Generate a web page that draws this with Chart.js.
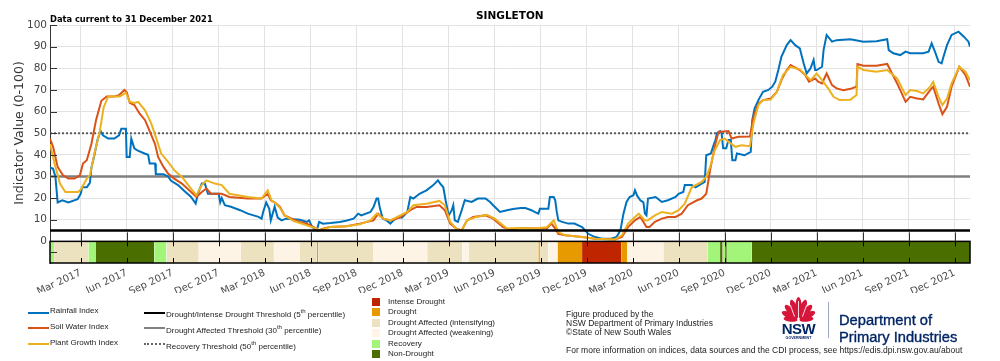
<!DOCTYPE html>
<html>
<head>
<meta charset="utf-8">
<script src="https://cdn.jsdelivr.net/npm/chart.js@4.4.1/dist/chart.umd.min.js"></script>
<style>
  body { margin: 0; background: #fff; }
  #wrap { position: relative; width: 1000px; height: 361px; overflow: hidden; font-family: "Liberation Sans", Arial, sans-serif; color: #222; }
  #c { position: absolute; left: 0; top: 0; }
  .abs { position: absolute; white-space: nowrap; }
  .ttl { font-family: "DejaVu Sans", sans-serif; font-weight: bold; color: #000; }
  .leg { font-size: 8px; line-height: 10px; }
  .sw { position: absolute; height: 0; }
  .box { position: absolute; width: 8px; height: 8px; }
  .foot { font-size: 8.5px; line-height: 9px; color: #222; }
</style>
</head>
<body>
<div id="wrap">
  <canvas id="c" width="1000" height="361"></canvas>

  <div class="abs ttl" style="left:476px; top:9px; font-size:10.5px;">SINGLETON</div>
  <div class="abs ttl" style="left:50px; top:14px; font-size:8.3px;">Data current to 31 December 2021</div>
  <div class="abs" style="left:18px; top:133px; transform: translate(-50%,-50%) rotate(-90deg); font-family:'DejaVu Sans',sans-serif; font-size:12.5px; color:#333;">Indicator Value (0-100)</div>

  <!-- legend: series -->
  <div class="sw" style="left:28px; top:312px; width:21px; border-top:2px solid #0072BD;"></div>
  <div class="abs leg" style="left:50px; top:306px;">Rainfall Index</div>
  <div class="sw" style="left:28px; top:327px; width:21px; border-top:2px solid #D95319;"></div>
  <div class="abs leg" style="left:50px; top:322px;">Soil Water Index</div>
  <div class="sw" style="left:28px; top:343px; width:21px; border-top:2px solid #EDB120;"></div>
  <div class="abs leg" style="left:50px; top:338px;">Plant Growth Index</div>

  <!-- legend: thresholds -->
  <div class="sw" style="left:144px; top:312px; width:21px; border-top:2px solid #000;"></div>
  <div class="abs leg" style="left:166px; top:306px;">Drought/Intense Drought Threshold (5<sup style="font-size:6px">th</sup> percentile)</div>
  <div class="sw" style="left:144px; top:327px; width:21px; border-top:2px solid #808080;"></div>
  <div class="abs leg" style="left:166px; top:322px;">Drought Affected Threshold (30<sup style="font-size:6px">th</sup> percentile)</div>
  <div class="sw" style="left:144px; top:343px; width:21px; border-top:2px dotted #666;"></div>
  <div class="abs leg" style="left:166px; top:338px;">Recovery Threshold (50<sup style="font-size:6px">th</sup> percentile)</div>

  <!-- legend: categories -->
  <div id="catLegend"></div>

  <!-- footnote -->
  <div class="abs foot" style="left:566px; top:310px;">Figure produced by the<br>NSW Department of Primary Industries<br>&copy;State of New South Wales</div>
  <div class="abs foot" style="left:566px; top:346px;">For more information on indices, data sources and the CDI process, see https://edis.dpi.nsw.gov.au/about</div>

  <!-- logo -->
  <svg class="abs" style="left:776px; top:296px;" width="46" height="46" viewBox="0 0 46 46">
    <g fill="#D7153A">
      <ellipse cx="22.5" cy="11" rx="3.2" ry="10"/>
      <ellipse cx="22.5" cy="12" rx="3.2" ry="9.5" transform="rotate(-20 22.5 24)"/>
      <ellipse cx="22.5" cy="12" rx="3.2" ry="9.5" transform="rotate(20 22.5 24)"/>
      <ellipse cx="22.5" cy="13" rx="3.2" ry="9" transform="rotate(-42 22.5 24)"/>
      <ellipse cx="22.5" cy="13" rx="3.2" ry="9" transform="rotate(42 22.5 24)"/>
      <ellipse cx="22.5" cy="14" rx="3" ry="8.5" transform="rotate(-64 22.5 24)"/>
      <ellipse cx="22.5" cy="14" rx="3" ry="8.5" transform="rotate(64 22.5 24)"/>
      <ellipse cx="22.5" cy="16" rx="2.6" ry="7" transform="rotate(-84 22.5 24)"/>
      <ellipse cx="22.5" cy="16" rx="2.6" ry="7" transform="rotate(84 22.5 24)"/>
    </g>
    <g fill="#fff" opacity="0.85">
      <rect x="22" y="5" width="1" height="16"/>
      <rect x="16" y="9" width="1" height="12" transform="rotate(-20 16.5 15)"/>
      <rect x="28" y="9" width="1" height="12" transform="rotate(20 28.5 15)"/>
    </g>
    <text x="22.5" y="38" text-anchor="middle" font-family="Liberation Sans, Arial" font-weight="bold" font-size="15" fill="#002664" letter-spacing="-0.5">NSW</text>
    <text x="22.5" y="43" text-anchor="middle" font-family="Liberation Sans, Arial" font-weight="bold" font-size="3.6" fill="#002664">GOVERNMENT</text>
  </svg>
  <div class="abs" style="left:828px; top:302px; width:0; height:36px; border-left:1.5px solid #9aa6c4;"></div>
  <div class="abs" style="left:839px; top:312px; font-size:14.7px; line-height:17px; color:#002664; -webkit-text-stroke:0.35px #002664;">Department of<br>Primary Industries</div>
</div>

<script>
// valori, mesi da gennaio 2017 (0 = 1 gen 2017, 60 = 1 gen 2022)
const rainfall = [[0,34],[0.2,33.6],[0.35,30],[0.5,18],[0.8,19],[1.2,18],[1.8,19.5],[2.0,22],[2.1,25],[2.4,25],[2.6,27],[2.7,34],[2.9,40],[3.1,47],[3.3,51],[3.45,49],[3.8,47.5],[4.2,47.5],[4.5,49],[4.65,52],[4.95,52],[5.0,39],[5.2,39],[5.3,47.5],[5.5,43],[5.7,42],[6.2,40.5],[6.4,40],[6.5,36],[6.85,36],[6.9,31],[7.4,31],[7.7,30],[7.9,28],[8.35,26],[8.8,23],[9.2,20.5],[9.5,17.5],[9.65,22],[9.9,26.7],[10.1,26.7],[10.3,22],[11.0,22],[11.1,18],[11.2,20],[11.4,16.7],[11.8,16],[12.4,14.4],[12.9,12.8],[13.6,11.3],[13.8,10.5],[13.9,13.6],[14.1,18],[14.3,15],[14.4,9.7],[14.65,16],[14.85,11],[15.1,9.7],[15.4,10.5],[16.3,10],[16.75,9],[16.9,9.7],[17.1,6.6],[17.4,5.1],[17.55,9],[17.8,8.2],[18.3,8.5],[18.9,9],[19.3,9.5],[19.8,10.5],[20.1,12.8],[20.3,12],[20.9,13.6],[21.1,15.9],[21.3,19.8],[21.4,19.8],[21.5,15.9],[21.7,10.5],[21.95,9.7],[22.2,8.2],[22.4,9.7],[22.7,11.3],[22.95,11],[23.3,13.6],[23.5,20.5],[23.7,19.8],[24.1,22],[24.55,23.6],[25.0,26],[25.3,28.2],[25.45,26.7],[25.65,25],[25.8,19],[26.0,12],[26.2,14.4],[26.3,16.7],[26.4,9.7],[26.6,9],[26.85,14.4],[27.05,19],[27.5,18.2],[27.9,19.8],[28.4,19.8],[28.7,18.2],[28.9,16.7],[29.35,13.6],[29.8,14.4],[30.2,15],[30.7,15.4],[31.0,15.4],[31.4,14.4],[31.6,13.6],[31.85,12.8],[31.95,15.1],[32.5,15.1],[32.6,20.5],[32.85,20.5],[32.95,19],[33.05,13.6],[33.15,9.7],[33.4,9],[33.8,8.2],[34.2,8.2],[34.7,6.6],[34.9,5.1],[35.1,3.5],[35.55,2],[36.0,1.2],[36.6,1.2],[36.95,2],[37.2,5.1],[37.4,12.8],[37.6,18.2],[37.8,20.5],[38.05,21.3],[38.15,23.6],[38.3,21],[38.5,19],[38.7,18],[38.8,12.8],[38.9,12],[39.0,19.8],[39.5,20.5],[39.9,18.2],[40.3,19],[40.8,20.5],[41.0,22],[41.3,22.8],[41.4,26],[41.85,26],[42.1,25],[42.5,26.7],[42.7,27.5],[42.8,39.8],[43.1,40.6],[43.3,45],[43.4,46.8],[43.5,50],[43.7,51],[43.8,50],[43.9,43],[44.1,43],[44.25,46.8],[44.4,46.8],[44.5,37.5],[44.7,37.5],[44.8,40.6],[45.3,39.8],[45.7,41.4],[45.8,56],[45.95,61.4],[46.2,65.3],[46.5,69.1],[46.85,70],[47.1,71.5],[47.3,73.8],[47.5,79.2],[47.7,85.3],[48.05,90.7],[48.3,93],[48.6,90.7],[48.9,89.2],[49.15,82.3],[49.35,77.6],[49.6,80],[49.8,83.8],[49.9,79.2],[50.0,79.2],[50.35,80.7],[50.45,88.4],[50.65,95.4],[51.0,92.3],[51.3,93],[52.2,93.4],[53.05,92.3],[53.9,92.5],[54.6,93.4],[54.7,88.4],[55.0,86.9],[55.45,86.1],[55.8,87.7],[56.1,87],[56.95,87],[57.3,87.7],[57.5,91.5],[57.75,87],[57.95,83],[58.15,82.3],[58.3,86],[58.5,90.7],[58.8,95.4],[59.25,96.9],[59.6,94.6],[59.9,92.3],[60,90]];

const soilWater = [[0,47.5],[0.2,43.7],[0.5,34.4],[0.85,30.5],[1.2,29],[1.6,29],[1.95,30.5],[2.15,36],[2.4,37.5],[2.7,45],[3.0,56],[3.35,65],[3.7,67],[4.2,67],[4.5,67.6],[4.85,70],[5.0,69],[5.2,64],[5.5,63],[5.85,59],[6.2,56],[6.5,51],[6.85,45],[7.05,39],[7.4,34.4],[7.7,31.3],[8.1,29],[8.6,26.7],[9.2,22.8],[9.55,20.5],[9.9,22.8],[10.2,24.4],[10.5,22],[11.2,22],[11.7,20.5],[12.9,19.8],[13.8,19.8],[14.2,22],[14.4,19],[14.65,18],[15.0,15.9],[15.3,12],[15.9,10],[16.3,9],[16.75,8.2],[17.2,6.6],[17.5,5.1],[17.8,5.9],[18.25,6.6],[19.35,7],[20.2,8.2],[21.1,9.7],[21.4,12.8],[21.75,10.5],[22.2,9.7],[22.8,11],[23.5,14.4],[23.9,15.9],[24.55,15.9],[25.4,16.7],[25.75,14.4],[26.1,8.2],[26.5,5.9],[26.85,5.1],[27.2,9.7],[27.6,11.3],[28.4,12],[28.9,10.5],[29.55,6.6],[30.0,5.4],[30.65,6.2],[31.6,5.9],[32.4,5.9],[32.7,8.2],[32.95,5.9],[33.15,3.5],[33.6,2.8],[34.7,2],[35.55,1.2],[36.85,0.9],[37.3,2],[37.7,6.6],[38.15,9.7],[38.5,11.3],[38.9,6.6],[39.1,6.6],[39.45,9],[39.9,10.5],[40.3,11.3],[40.8,11.3],[41.2,12.8],[41.6,16.7],[42.2,19],[42.5,19.8],[42.8,22],[43.05,32.9],[43.35,43.7],[43.6,50.6],[44.25,51],[44.45,47.5],[44.9,48.3],[45.65,48.5],[45.88,57.6],[46.2,63.7],[46.5,65.3],[47.0,66],[47.4,69.1],[47.75,75.3],[48.05,79.2],[48.3,81.5],[48.5,80.7],[48.9,79.2],[49.25,76.9],[49.5,73.8],[49.7,74.5],[49.9,75.3],[50.1,73.8],[50.35,73],[50.65,77.6],[51.0,72.2],[51.3,70.7],[51.75,69.9],[52.2,70.5],[52.6,71.5],[52.66,82],[53.05,81.2],[53.9,81.2],[54.6,82],[54.8,79.2],[55.25,73],[55.8,64.5],[56.1,66.8],[56.55,66],[56.95,65.6],[57.4,69.9],[57.6,71.5],[57.95,63.7],[58.2,58.8],[58.5,62.2],[58.8,71.5],[59.3,80.7],[59.7,76.9],[60,71.5]];

const plantGrowth = [[0,45],[0.3,36],[0.65,26.7],[1.0,22.8],[1.85,22.8],[2.05,24.4],[2.4,29],[2.6,30.5],[2.9,40.6],[3.25,51],[3.5,62],[3.8,67],[4.55,67],[4.95,68.7],[5.2,64.5],[5.5,64],[5.75,64.5],[6.2,60.6],[6.6,54.5],[6.9,48.3],[7.25,40.6],[7.7,36.7],[8.1,32.9],[8.6,29.8],[9.2,24.4],[9.55,21.3],[9.9,26],[10.2,28.2],[10.75,26.7],[11.2,26],[11.7,22],[12.9,20.5],[13.8,19.8],[14.2,23.6],[14.45,19],[14.65,18],[15.0,15.5],[15.3,12],[15.9,9.4],[16.75,7.4],[17.4,5.9],[17.6,5.1],[18.25,6.6],[19.35,7],[20.2,7.9],[20.9,9.7],[21.3,12.8],[21.75,10.5],[22.2,9.7],[23.3,13.6],[23.7,16.7],[24.55,17.4],[25.4,18.7],[25.75,16.7],[26.1,9],[26.5,5.9],[26.85,5.1],[27.2,9.7],[27.8,11.3],[28.5,12.3],[29.0,10.5],[29.8,5.9],[30.65,6.2],[31.6,6],[32.4,6.5],[32.85,9.7],[33.15,4.3],[33.6,2.8],[34.7,2],[35.55,1.2],[36.85,0.9],[37.3,2.8],[37.7,8.2],[38.15,11.3],[38.4,12.8],[38.8,9.7],[39.0,9.8],[39.45,12],[39.9,13.6],[40.55,12.8],[41.0,14.4],[41.4,17.4],[41.85,25],[42.5,27.5],[42.8,29.8],[43.05,34.4],[43.35,42],[43.7,46.8],[44.0,47.5],[44.25,46],[44.7,43.7],[45.1,44.4],[45.65,44],[45.88,54.5],[46.2,63],[46.5,65.3],[47.0,65.5],[47.4,69],[47.8,76.9],[48.3,80.7],[48.9,79.5],[49.25,77],[49.6,74.5],[50.0,77.6],[50.35,74.5],[50.75,70.7],[51.1,66.8],[51.5,65.3],[52.2,65.5],[52.6,67.6],[52.66,80.7],[53.05,79.2],[53.9,78.4],[54.6,79.2],[55.25,75.3],[55.8,67.6],[56.1,69.9],[56.55,69.5],[56.95,68.4],[57.4,71.5],[57.6,73.8],[57.95,66.8],[58.2,63],[58.5,66],[58.8,73],[59.3,80.7],[59.7,78.4],[60,74.5]];

// soglie
const thresholds = [5, 30, 50];

// categorie CDI (barra colorata sotto il grafico)
const categories = ['Intense Drought', 'Drought', 'Drought Affected (intensifying)', 'Drought Affected (weakening)', 'Recovery', 'Non-Drought'];
const barBreaks = [0, 0.27, 2.5, 3.0, 6.8, 7.6, 9.7, 12.45, 14.6, 16.3, 17.4, 17.5, 21.1, 24.6, 26.9, 27.3, 31.85, 31.95, 32.5, 33.1, 34.7, 37.25, 37.65, 40.0, 42.9, 43.7, 43.87, 44.03, 44.14, 45.77, 60];
const barCats =   [4, 2, 4, 5, 4, 2, 3, 2, 3, 2, 1, 2, 3, 2, 3, 2, 1, 2, 3, 1, 0, 1, 3, 2, 4, 5, 4, 5, 4, 5];

// etichette asse x
const tickMonths = [2, 5, 8, 11, 14, 17, 20, 23, 26, 29, 32, 35, 38, 41, 44, 47, 50, 53, 56, 59];
const tickLabels = ['Mar 2017', 'Jun 2017', 'Sep 2017', 'Dec 2017', 'Mar 2018', 'Jun 2018', 'Sep 2018', 'Dec 2018', 'Mar 2019', 'Jun 2019', 'Sep 2019', 'Dec 2019', 'Mar 2020', 'Jun 2020', 'Sep 2020', 'Dec 2020', 'Mar 2021', 'Jun 2021', 'Sep 2021', 'Dec 2021'];

// stili
const catColours = ['#BF2600', '#E69A00', '#EDE2BF', '#FDF4E6', '#A3F57A', '#4A6E00'];

// legenda categorie in html
const catLegend = document.getElementById('catLegend');
categories.forEach((name, i) => {
    const top = 298 + i * 10.4;
    catLegend.insertAdjacentHTML('beforeend',
        `<div class="box" style="left:372px; top:${top}px; background:${catColours[i]};"></div>` +
        `<div class="abs leg" style="left:388px; top:${top - 1}px;">${name}</div>`);
});

function toPoints(arr) {
    return arr.map(p => ({ x: p[0], y: p[1] }));
}

// un dataset per categoria, segmenti separati da null
function categoryData(cat) {
    const pts = [];
    for (let i = 0; i < barCats.length; i++) {
        if (barCats[i] !== cat) continue;
        pts.push({ x: barBreaks[i], y: 0 }, { x: barBreaks[i + 1], y: 0 }, { x: barBreaks[i + 1], y: null });
    }
    return pts;
}

function thresholdLine(v) {
    return [{ x: 0, y: v }, { x: 60, y: v }];
}

const lineBase = { pointRadius: 0, tension: 0, fill: false, borderWidth: 2 };

const datasets = [
    Object.assign({ data: thresholdLine(thresholds[0]), borderColor: '#000' }, lineBase, { borderWidth: 2.5 }),
    Object.assign({ data: toPoints(plantGrowth), borderColor: '#EDB120' }, lineBase),
    Object.assign({ data: toPoints(soilWater), borderColor: '#D95319' }, lineBase),
    Object.assign({ data: toPoints(rainfall), borderColor: '#0072BD' }, lineBase),
    Object.assign({ data: thresholdLine(thresholds[1]), borderColor: '#808080' }, lineBase, { borderWidth: 2.5 }),
    Object.assign({ data: thresholdLine(thresholds[2]), borderColor: '#5f5f5f', borderDash: [2, 2] }, lineBase),
];
categories.forEach((name, i) => {
    datasets.push({
        data: categoryData(i),
        borderWidth: 0,
        borderColor: catColours[i],
        backgroundColor: catColours[i],
        pointRadius: 0,
        tension: 0,
        spanGaps: false,
        fill: { value: -10 }
    });
});

// cornice della barra e tacche stile matlab
const frame = {
    id: 'frame',
    afterDatasetsDraw(chart) {
        const { ctx, scales: { x, y } } = chart;
        const top = y.getPixelForValue(0);
        const bottom = y.getPixelForValue(-10);
        ctx.save();
        ctx.strokeStyle = '#000';
        ctx.lineWidth = 1.5;
        ctx.strokeRect(x.left, top, x.right - x.left, bottom - top);
        ctx.lineWidth = 1;
        x.ticks.forEach(t => {
            const px = Math.round(x.getPixelForValue(t.value)) + 0.5;
            ctx.strokeStyle = '#333';
            ctx.beginPath(); ctx.moveTo(px, top); ctx.lineTo(px, top - 9); ctx.stroke();
            ctx.strokeStyle = '#000';
            ctx.beginPath(); ctx.moveTo(px, top); ctx.lineTo(px, top + 5); ctx.stroke();
            ctx.beginPath(); ctx.moveTo(px, bottom); ctx.lineTo(px, bottom - 5); ctx.stroke();
        });
        ctx.strokeStyle = '#333';
        y.ticks.forEach(t => {
            if (t.value <= 0) return;
            const py = Math.round(y.getPixelForValue(t.value)) + 0.5;
            ctx.beginPath(); ctx.moveTo(x.left, py); ctx.lineTo(x.left + 7, py); ctx.stroke();
        });
        const mid = Math.round(y.getPixelForValue(-5)) + 0.5;
        ctx.beginPath(); ctx.moveTo(x.left, mid); ctx.lineTo(x.left + 7, mid); ctx.stroke();
        ctx.restore();
    }
};

const ctx = document.getElementById('c').getContext('2d');
new Chart(ctx, {
    type: 'line',
    data: { datasets: datasets },
    options: {
        responsive: false,
        animation: false,
        devicePixelRatio: 1,
        layout: { padding: { top: 25, right: 30, left: 0, bottom: 68 } },
        plugins: { legend: { display: false }, tooltip: { enabled: false } },
        scales: {
            x: {
                type: 'linear',
                min: 0,
                max: 60,
                afterBuildTicks: s => { s.ticks = tickMonths.map(v => ({ value: v })); },
                afterFit: s => { s.height = 30; },
                grid: { color: '#e2e2e2', lineWidth: 1, drawTicks: false },
                border: { display: false },
                ticks: {
                    autoSkip: false,
                    maxRotation: 25,
                    minRotation: 25,
                    padding: 4,
                    color: '#4a4a4a',
                    font: { family: 'DejaVu Sans', size: 10 },
                    callback: v => tickLabels[tickMonths.indexOf(v)]
                }
            },
            y: {
                min: -10,
                max: 100,
                afterBuildTicks: s => { s.ticks = [-10, 0, 10, 20, 30, 40, 50, 60, 70, 80, 90, 100].map(v => ({ value: v })); },
                afterFit: s => { s.width = 50; },
                grid: {
                    color: c => (c.tick && c.tick.value > 0) ? '#e2e2e2' : 'rgba(0,0,0,0)',
                    lineWidth: 1,
                    drawTicks: false
                },
                border: { display: true, color: '#333', width: 1 },
                ticks: {
                    padding: 3,
                    color: '#444',
                    font: { family: 'DejaVu Sans', size: 10.5 },
                    callback: v => v >= 0 ? String(v) : ''
                }
            }
        }
    },
    plugins: [frame]
});
</script>
</body>
</html>
